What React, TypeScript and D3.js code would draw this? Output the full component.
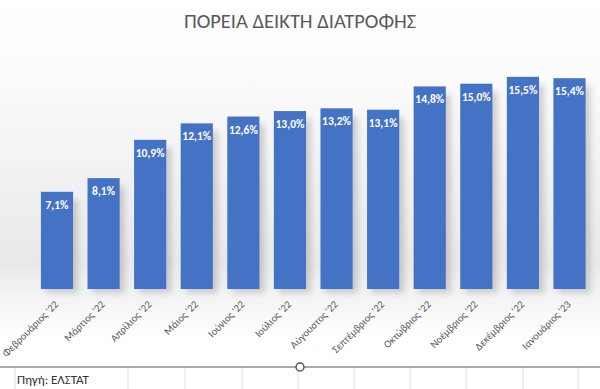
import React from "react";
import * as d3 from "d3";

const categories = [
  "Φεβρουάριος '22", "Μάρτιος '22", "Απρίλιος '22", "Μάιος '22", "Ιούνιος '22", "Ιούλιος '22",
  "Αύγουστος '22", "Σεπτέμβριος '22", "Οκτώβριος '22", "Νοέμβριος '22", "Δεκέμβριος '22", "Ιανουάριος '23",
];
const values = [7.1, 8.1, 10.9, 12.1, 12.6, 13.0, 13.2, 13.1, 14.8, 15.0, 15.5, 15.4];
const title = "ΠΟΡΕΙΑ ΔΕΙΚΤΗ ΔΙΑΤΡΟΦΗΣ";
const source = "Πηγή: ΕΛΣΤΑΤ";
const gridCols = [15, 128, 185, 242, 298, 354, 410, 466, 523, 578];

const W = 600, H = 389;
const font = "Calibri, Carlito, 'Open Sans', 'Liberation Sans', sans-serif";

export default function App() {
  const x = d3.scaleBand<string>().domain(categories).range([33.7, 592.8]).paddingInner(0.31).paddingOuter(0.155);
  const y = d3.scaleLinear().domain([0, 16]).range([289, 70]);
  const fmt = (v: number) => v.toFixed(1).replace(".", ",") + "%";
  const bw = x.bandwidth();
  return (
    <svg width={W} height={H} style={{ position: "absolute", left: 0, top: 0, display: "block" }}>
      <defs>
        <linearGradient id="bg" x1="0" y1="0" x2="0" y2="1">
          <stop offset="0" stopColor="#ffffff" />
          <stop offset="0.15" stopColor="#fdfdfd" />
          <stop offset="0.72" stopColor="#e9e9e9" />
          <stop offset="0.8" stopColor="#f3f3f3" />
          <stop offset="0.92" stopColor="#ffffff" />
          <stop offset="1" stopColor="#ffffff" />
        </linearGradient>
        <filter id="sh" x="-50%" y="-20%" width="200%" height="140%">
          <feGaussianBlur stdDeviation="3" />
        </filter>
      </defs>
      <rect x={0} y={0} width={W} height={367} fill="url(#bg)" />
      <rect x={0} y={367} width={W} height={H - 367} fill="#ffffff" />
      <text x={300} y={28} textAnchor="middle" fontFamily={font} fontSize={20.5} fill="#595959">{title}</text>
      {categories.map((c, i) => (
        <rect key={"s" + c} x={(x(c) as number) + 5} y={y(values[i]) + 8} width={bw} height={289 - y(values[i]) - 4}
          fill="#9a9a9a" opacity={0.45} filter="url(#sh)" />
      ))}
      {categories.map((c, i) => (
        <g key={c}>
          <rect x={x(c)} y={y(values[i])} width={bw} height={289 - y(values[i])} fill="#4472C4" />
          <text x={(x(c) as number) + bw / 2} y={y(values[i]) + 17} textAnchor="middle" fontFamily={font}
            fontSize={11.5} fontWeight="bold" fill="#ffffff">{fmt(values[i])}</text>
          <text transform={`translate(${(x(c) as number) + bw / 2 + 2},${305}) rotate(-45)`} textAnchor="end"
            fontFamily={font} fontSize={10.5} fill="#595959">{c}</text>
        </g>
      ))}
      {gridCols.map((gx) => (
        <line key={gx} x1={gx} x2={gx} y1={367} y2={H} stroke="#e0e0e0" strokeWidth={1} />
      ))}
      <line x1={0} x2={W} y1={367} y2={367} stroke="#8c8c8c" strokeWidth={1.5} />
      <circle cx={300} cy={367} r={4} fill="#ffffff" stroke="#555555" strokeWidth={1.5} />
      <text x={17} y={384} fontFamily={font} fontSize={13} fill="#333333">{source}</text>
    </svg>
  );
}
